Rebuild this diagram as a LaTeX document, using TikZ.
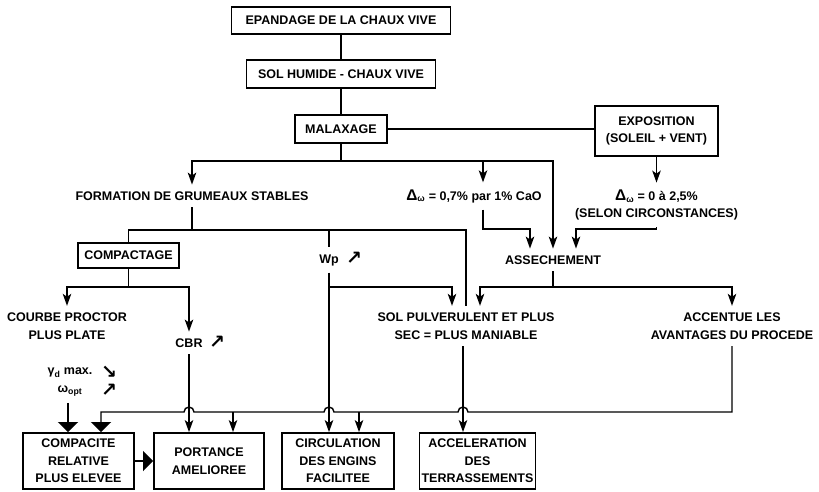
\documentclass[tikz,border=0pt]{standalone}
\usepackage{fontspec}
\setmainfont{Liberation Sans}
\newfontfamily\symfont{DejaVu Sans}
\usetikzlibrary{arrows.meta,calc}

\newcommand{\bigdelta}{{\fontsize{15.5}{17.5}\selectfont Δ}}

\begin{document}
\begin{tikzpicture}[
    x=1pt, y=-1pt,
    font=\fontsize{12.5}{17.5}\selectfont\bfseries,
    box/.style={draw, line width=1.8pt, align=center, inner sep=2pt},
    bigbox/.style={box, minimum width=111pt, minimum height=56pt},
    lbl/.style={align=center, inner sep=2pt, outer sep=5pt},
    sym/.style={font=\fontsize{19}{18}\selectfont\symfont\bfseries, inner sep=0pt, align=center},
    line/.style={line width=1.4pt},
    arrow/.style={line, -{Stealth[length=12pt, width=8.5pt, inset=3pt]}},
    bigarrow/.style={line, -{Triangle[length=10pt, width=20pt]}}
]
\useasboundingbox (0,0) rectangle (819,491);

% top of the chain
\node[box, minimum width=219pt, minimum height=27pt] (epandage) at (341,20.5) {EPANDAGE DE LA CHAUX VIVE};
\node[box, minimum width=189pt, minimum height=28pt] (solhum) at (341,74) {SOL HUMIDE - CHAUX VIVE};
\node[box, minimum width=92pt, minimum height=28pt] (malax) at (341,129) {MALAXAGE};
\node[box, minimum width=123pt, minimum height=50pt] (expo) at (656.5,131) {EXPOSITION\\(SOLEIL + VENT)};

% effects
\node[lbl] (formation) at (192,196) {FORMATION DE GRUMEAUX STABLES};
\node[lbl] (delta1) at (474,196) {\bigdelta\textsubscript{ω} = 0,7\% par 1\% CaO};
\node[lbl] (delta2) at (656.5,205) {\bigdelta\textsubscript{ω} = 0 à 2,5\%\\(SELON CIRCONSTANCES)};
\node[lbl] (assech) at (553,260) {ASSECHEMENT};
\node[box, minimum width=101pt, minimum height=25pt] (compactage) at (128.5,255.5) {COMPACTAGE};
\node[lbl] (wp) at (329,260) {Wp};
\node[sym] (wpup) at (354,258) {↗};
\node[lbl] (cbr) at (189,343) {CBR};
\node[sym] (cbrup) at (217,342) {↗};
\node[lbl] (courbe) at (67,326) {COURBE PROCTOR\\PLUS PLATE};
\node[lbl] (gamma) at (70,382) {γ\textsubscript{d} max.\\ω\textsubscript{opt}};
\node[sym] (gammaarr) at (109,381) {↘\\↗};
\node[lbl] (sol) at (466,326) {SOL PULVERULENT ET PLUS\\SEC = PLUS MANIABLE};
\node[lbl] (accentue) at (732,326) {ACCENTUE LES\\AVANTAGES DU PROCEDE};

% results
\node[bigbox] (compacite) at (78.5,461) {COMPACITE\\RELATIVE\\PLUS ELEVEE};
\node[bigbox, minimum width=110pt] (portance) at (209,461) {PORTANCE\\AMELIOREE};
\node[bigbox, minimum width=112pt] (circ) at (338,461) {CIRCULATION\\DES ENGINS\\FACILITEE};
\node[bigbox] (accel) at (477.5,461) {ACCELERATION\\DES\\TERRASSEMENTS};

\draw[line] (epandage) -- (solhum);
\draw[line] (solhum) -- (malax);
\draw[line] (malax.east) -- (malax.east -| expo.west);

\coordinate (j1) at (341,161);
\draw[line] (malax) -- (j1);
\draw[arrow] (j1) -| (formation);
\draw[arrow] (j1) -| ([xshift=9pt]delta1.north);
\draw[arrow] (j1) -| (assech);
\draw[arrow] (expo) -- (delta2);

\coordinate (k1) at (530,229);
\coordinate (k2) at (576,229);
\draw[arrow] ([xshift=9pt]delta1.south) |- (k1) -- (k1 |- assech.north);
\draw[arrow] (delta2) |- (k2) -- (k2 |- assech.north);

\coordinate (j2) at (192,230);
\draw[line] (formation) -- (j2);
\draw[line] (j2) -| (compactage);
\draw[line] (j2) -| (wp);
\draw[line] (j2) -| (sol);

\coordinate (j3) at (128.5,287);
\draw[line] (compactage) -- (j3);
\draw[arrow] (j3) -| (courbe);
\draw[arrow] (j3) -| (cbr);

\coordinate (j4) at (329,287);
\draw[arrow] (j4) -| ([xshift=-14pt]sol.north);
\draw[arrow] (wp) -- (wp |- circ.north);

\coordinate (j5) at (553,287);
\draw[line] (assech) -- (j5);
\draw[arrow] (j5) -| ([xshift=14pt]sol.north);
\draw[arrow] (j5) -| (accentue);

\coordinate (solout) at ([xshift=-3pt]sol.south);
\coordinate (gout) at ([xshift=-2pt]gamma.south);
\draw[arrow] (solout) -- (solout |- accel.north);
\draw[arrow] (cbr) -- (cbr |- portance.north);
\draw[bigarrow] (gout) -- (gout |- compacite.north);
\draw[bigarrow] (compacite) -- (portance);

% return line with hops
\coordinate (bus) at (0,412);
\coordinate (h1) at (solout |- bus);
\coordinate (h2) at (wp |- bus);
\coordinate (h3) at (cbr |- bus);
\coordinate (b0) at (101,412);
\coordinate (b1) at (233,412);
\coordinate (b2) at (359,412);
\draw[bigarrow] (accentue) |- ([xshift=5pt]h1) arc[start angle=0, end angle=180, radius=5pt]
  -- ([xshift=5pt]h2) arc[start angle=0, end angle=180, radius=5pt]
  -- ([xshift=5pt]h3) arc[start angle=0, end angle=180, radius=5pt]
  -- (b0) -- (b0 |- compacite.north);
\draw[arrow] (b1) -- (b1 |- portance.north);
\draw[arrow] (b2) -- (b2 |- circ.north);
\end{tikzpicture}
\end{document}
